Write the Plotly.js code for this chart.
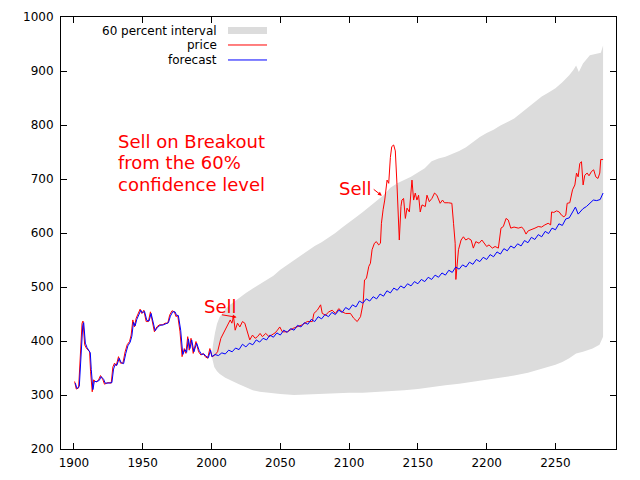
<!DOCTYPE html>
<html>
<head>
<meta charset="utf-8">
<script src="https://cdn.plot.ly/plotly-3.0.1.min.js"></script>
<style>html,body{margin:0;padding:0;background:#fff;}#chart{width:640px;height:480px;}</style>
</head>
<body>
<div id="chart"></div>
<script>
// ---- historical price (years, values) ----
var histYears = [1900.5,1901.7,1903.4,1904.6,1905.9,1906.6,1907.8,1909,1911.4,1912.1,1913.3,1914.3,1916.2,1917.9,1919.3,1921.1,1922.2,1924.7,1927.1,1928.3,1929.5,1930.7,1932.4,1933.8,1935.6,1937.2,1938.7,1940.4,1941.6,1942.8,1944,1945.2,1946.9,1948.1,1949.3,1950.8,1952.5,1954.1,1955.6,1957.3,1958.5,1960.2,1962.1,1964.6,1966.2,1968.2,1969.6,1971.3,1973,1974.2,1975.4,1977.1,1978.6,1980.2,1981.4,1982.7,1983.8,1985.1,1986.7,1988.7,1990.6,1992.3,1994,1995.4,1997.2,1998.8,2000.3];
var histPrice = [325,311,313,380,433,437,393,387,380,343,306,328,324,328,336,328,320,323,322,352,359,354,371,359,359,380,393,399,411,439,426,442,454,459,451,457,436,436,454,433,417,426,430,430,433,433,448,456,454,445,448,417,371,386,377,408,383,405,377,399,380,374,377,371,368,386,371];

// ---- fitted values over the historical period ----
var fitYears = [1901,1902.2,1903.9,1905.1,1906.4,1907.1,1908.3,1909.5,1911.9,1912.6,1913.8,1914.8,1916.7,1918.4,1919.8,1921.6,1922.7,1925.2,1927.6,1928.8,1930,1931.2,1932.9,1934.3,1936.1,1937.7,1939.2,1940.9,1942.1,1943.3,1944.5,1945.7,1947.4,1948.6,1949.8,1951.3,1953,1954.6,1956.1,1957.8,1959,1960.7,1962.6,1965.1,1966.7,1968.7,1970.1,1971.8,1973.5,1974.7,1975.9,1977.6,1979.1,1980.7,1981.9,1983.2,1984.3,1985.6,1987.2,1989.2,1991.1,1992.8,1994.5,1995.9,1997.7,1999.3,2000.3];
var fitValues = [322,312,316,372,428,434,396,388,378,347,310,325,325,327,334,329,322,322,323,348,357,355,368,360,358,377,391,398,409,435,428,440,451,457,452,455,438,437,451,435,419,425,429,430,432,434,446,454,454,447,447,420,375,384,379,404,386,402,380,396,382,375,376,372,369,383,371];

// ---- simulated future price ----
var futYears = [2002,2004.4,2006.8,2009.2,2011.7,2013.6,2014.8,2016,2017.2,2018.9,2020.6,2022.5,2024.2,2026.2,2027.8,2029.8,2031.7,2033.4,2035.3,2037,2039.4,2041.8,2043.8,2046.2,2047.9,2049.6,2051.5,2055.1,2058.8,2062.4,2066,2069.6,2073.3,2074.4,2076.9,2079.3,2080.5,2082.9,2085.3,2087.7,2090.1,2092.5,2095,2097.4,2101,2103.4,2105.9,2108.3,2110.2,2111.2,2112.6,2114.3,2115.5,2116.7,2118.4,2119.8,2121.5,2122.8,2123.5,2124.7,2125.9,2127.6,2128.8,2130,2131,2132.4,2133.6,2134.8,2136.5,2137.7,2138.4,2139.6,2140.9,2142.1,2143.8,2145.7,2146.9,2148.1,2149.3,2150.5,2151.7,2153,2155.4,2156.6,2158.3,2160.2,2162.1,2163.8,2165,2166.2,2167.9,2169.3,2172.2,2174.7,2175.9,2177.1,2177.6,2178.6,2179.5,2181.4,2183.1,2184.8,2186.7,2188.7,2190.3,2192.1,2194.5,2196.5,2198.3,2200,2201.7,2204.1,2206.1,2208.5,2210.4,2212.1,2214.1,2215.7,2217.5,2219.9,2223,2225.5,2227.1,2228.6,2230.2,2232.7,2235.1,2237.5,2239.9,2242.3,2244.7,2246.5,2247.2,2248.8,2250.8,2252.7,2254.4,2256.1,2257.5,2258.5,2260.4,2262.4,2264.1,2265.3,2266.5,2267.7,2268.9,2270.1,2271.3,2273,2274.4,2276.2,2277.8,2279.3,2280.9,2282.2,2282.9,2284.6];
var futPrice = [373,380,405,417,430,439,433,445,420,433,426,436,433,417,402,411,405,408,414,408,414,408,411,415,420,426,417,417,423,426,430,436,436,451,457,467,451,448,454,457,451,460,454,451,451,442,436,445,470,513,516,538,544,569,581,584,578,581,618,643,661,698,692,740,760,763,752,690,587,649,661,664,627,646,639,698,661,674,661,670,639,652,649,670,658,664,674,670,664,655,661,656,656,655,618,581,514,538,569,587,593,587,590,587,572,584,581,587,581,575,578,572,575,572,609,612,627,624,609,611,609,611,606,598,604,606,609,612,611,615,618,615,639,638,641,639,633,630,633,655,656,680,689,711,704,729,732,689,707,711,706,714,717,704,701,711,736,736];

// ---- forecast beyond the data ----
var fcYears = [2002.5,2005,2007.5,2010,2012.5,2015,2017.5,2020,2022.5,2025,2027.5,2030,2032.5,2035,2037.5,2040,2042.5,2045,2047.5,2050,2052.5,2055,2057.5,2060,2062.5,2065,2067.5,2070,2072.5,2075,2077.5,2080,2082.5,2085,2087.5,2090,2092.5,2095,2097.5,2100,2102.5,2105,2107.5,2110,2112.5,2115,2117.5,2120,2122.5,2125,2127.5,2130,2132.5,2135,2137.5,2140,2142.5,2145,2147.5,2150,2152.5,2155,2157.5,2160,2162.5,2165,2167.5,2170,2172.5,2175,2177.5,2180,2182.5,2185,2187.5,2190,2192.5,2195,2197.5,2200,2202.5,2205,2207.5,2210,2212.5,2215,2217.5,2220,2222.5,2225,2227.5,2230,2232.5,2235,2237.5,2240,2242.5,2245,2247.5,2250,2252.5,2255,2257.5,2260,2262.5,2264.5,2266.5,2270,2272.5,2275,2277.5,2280,2282.5,2284.6];
var fcValues = [375,373,378,376,383,380,387,384,394,389,396,393,402,398,405,402,411,407,415,411,420,416,423,420,429,426,434,431,440,436,445,441,449,445,453,449,457,453,462,458,467,463,474,470,478,474,482,478,487,483,493,489,498,494,502,498,506,502,510,506,514,510,518,514,522,518,526,522,531,527,537,533,541,537,546,542,551,547,555,551,560,556,565,561,571,567,576,572,580,576,586,582,592,588,597,593,603,599,609,606,617,614,626,628,640,648,635,645,649,656,661,660,662,674];

// ---- 60 percent interval ----
var upperYears = [2000.3,2001,2002.5,2004,2006,2008,2010,2013,2016,2020,2025,2030,2035,2040,2045,2050,2055,2060,2065,2070,2075,2080,2085,2090,2095,2100,2105,2110,2115,2120,2125,2130,2135,2140,2145,2150,2155,2160,2165,2170,2175,2180,2185,2190,2195,2200,2205,2210,2215,2220,2225,2230,2235,2240,2245,2250,2255,2260,2263,2265,2267,2270,2275,2280,2283,2284.6];
var upperBound = [372,392,415,432,445,453,459,466,472,479,489,497,505,512,521,532,541,550,558,568,576,583,591,600,610,619,629,639,649,659,670,684,692,698,704,712,720,733,738,741,746,752,759,769,778,785,791,799,805,812,822,832,843,853,860,868,879,892,902,910,898,914,929,933,934,947];
var lowerYears = [2000.3,2001,2002,2004,2006,2010,2015,2020,2025,2030,2035,2040,2050,2060,2070,2080,2090,2100,2110,2120,2130,2140,2150,2160,2170,2180,2190,2200,2210,2220,2230,2240,2250,2255,2260,2265,2270,2277,2282,2284.6];
var lowerBound = [370,360,352,344,339,332,326,320,314,309,306,304,302,300,301,302,303,304,304,305,307,309,311,314,318,321,325,329,332,336,341,348,356,361,368,377,380,386,393,408];

var legendLabels = ["60 percent interval", "price", "forecast"];
var noteLines = ["Sell on Breakout", "from the 60%", "confidence level"];
var xTicks = [1900,1950,2000,2050,2100,2150,2200,2250];

// build traces
var bandX = upperYears.concat(lowerYears.slice().reverse());
var bandY = upperBound.concat(lowerBound.slice().reverse());
var priceX = histYears.concat(futYears);
var priceY = histPrice.concat(futPrice);
var forecastX = fitYears.concat(fcYears);
var forecastY = fitValues.concat(fcValues);

var traces = [
  {x: bandX, y: bandY, type: 'scatter', mode: 'lines', fill: 'toself',
   fillcolor: '#dcdcdc', line: {width: 0, color: '#dcdcdc'}, hoverinfo: 'skip', showlegend: false},
  {x: priceX, y: priceY, type: 'scatter', mode: 'lines',
   line: {color: '#ff0000', width: 1}, showlegend: false},
  {x: forecastX, y: forecastY, type: 'scatter', mode: 'lines',
   line: {color: '#0000ff', width: 1}, showlegend: false}
];

var font = "DejaVu Sans, sans-serif";
var red = '#ff0000';
var ann = [
  {xref: 'paper', yref: 'paper', x: 0.2847, y: 0.9676, xanchor: 'right', yanchor: 'middle',
   text: legendLabels[0], showarrow: false, font: {family: font, size: 12, color: '#000'}},
  {xref: 'paper', yref: 'paper', x: 0.2847, y: 0.9352, xanchor: 'right', yanchor: 'middle',
   text: legendLabels[1], showarrow: false, font: {family: font, size: 12, color: '#000'}},
  {xref: 'paper', yref: 'paper', x: 0.2847, y: 0.9005, xanchor: 'right', yanchor: 'middle',
   text: legendLabels[2], showarrow: false, font: {family: font, size: 12, color: '#000'}},
  {x: 1930.6, y: 770, xanchor: 'left', yanchor: 'middle', showarrow: false, text: noteLines[0],
   font: {family: font, size: 18, color: red}},
  {x: 1930.6, y: 730, xanchor: 'left', yanchor: 'middle', showarrow: false, text: noteLines[1],
   font: {family: font, size: 18, color: red}},
  {x: 1930.6, y: 690, xanchor: 'left', yanchor: 'middle', showarrow: false, text: noteLines[2],
   font: {family: font, size: 18, color: red}},
  {x: 2006.5, y: 463, xanchor: 'center', yanchor: 'middle', showarrow: false, text: 'Sell',
   font: {family: font, size: 18, color: red}},
  {x: 2104.7, y: 683, xanchor: 'center', yanchor: 'middle', showarrow: false, text: 'Sell',
   font: {family: font, size: 18, color: red}},
  {x: 2018.2, y: 444, ax: 2006.5, ay: 449, axref: 'x', ayref: 'y', text: '', showarrow: true,
   arrowhead: 2, arrowsize: 0.8, arrowwidth: 1, arrowcolor: red, standoff: 0, startstandoff: 0},
  {x: 2123.8, y: 669, ax: 2116.8, ay: 683, axref: 'x', ayref: 'y', text: '', showarrow: true,
   arrowhead: 2, arrowsize: 0.8, arrowwidth: 1, arrowcolor: red, standoff: 0, startstandoff: 0}
];

var layout = {
  width: 640, height: 480,
  margin: {l: 61, r: 24, t: 17, b: 31, pad: 0},
  paper_bgcolor: '#ffffff', plot_bgcolor: '#ffffff',
  showlegend: false,
  font: {family: font, size: 12, color: '#000000'},
  xaxis: {range: [1890.6, 2294], tickvals: xTicks, ticktext: xTicks.map(String),
    ticks: 'inside', ticklen: 6, tickcolor: '#000', mirror: 'allticks', ticklabelstandoff: 3,
    showline: true, linecolor: '#000', linewidth: 1, showgrid: false, zeroline: false,
    tickfont: {family: font, size: 12, color: '#000'}},
  yaxis: {range: [200, 1000], dtick: 100, tick0: 200,
    ticks: 'inside', ticklen: 6, tickcolor: '#000', mirror: 'allticks', ticklabelstandoff: 4,
    showline: true, linecolor: '#000', linewidth: 1, showgrid: false, zeroline: false,
    tickfont: {family: font, size: 12, color: '#000'}},
  shapes: [
    {type: 'rect', xref: 'paper', yref: 'paper', x0: 0.3009, x1: 0.3712, y0: 0.9606, y1: 0.9769,
     fillcolor: '#dcdcdc', line: {width: 0}},
    {type: 'line', xref: 'paper', yref: 'paper', x0: 0.3009, x1: 0.3712, y0: 0.9352, y1: 0.9352,
     line: {color: red, width: 1}},
    {type: 'line', xref: 'paper', yref: 'paper', x0: 0.3009, x1: 0.3712, y0: 0.9005, y1: 0.9005,
     line: {color: '#0000ff', width: 1}}
  ],
  annotations: ann
};

Plotly.newPlot('chart', traces, layout, {displayModeBar: false, staticPlot: true});
</script>
</body>
</html>
